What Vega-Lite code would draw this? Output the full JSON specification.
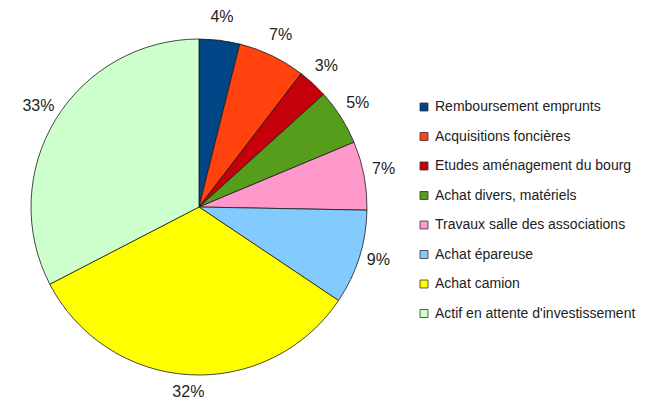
{
  "$schema": "https://vega.github.io/schema/vega-lite/v6.json",
  "width": 398,
  "height": 392,
  "padding": {"left": 0, "top": 9, "right": 0, "bottom": 0},
  "background": "white",
  "config": {"view": {"stroke": null}, "font": "Liberation Sans"},
  "data": {
    "values": [
      {"idx": 1, "poste": "Remboursement emprunts", "part": 3.9, "label": "4%"},
      {"idx": 2, "poste": "Acquisitions foncières", "part": 6.5, "label": "7%"},
      {"idx": 3, "poste": "Etudes aménagement du bourg", "part": 2.9, "label": "3%"},
      {"idx": 4, "poste": "Achat divers, matériels", "part": 5.4, "label": "5%"},
      {"idx": 5, "poste": "Travaux salle des associations", "part": 6.6, "label": "7%"},
      {"idx": 6, "poste": "Achat épareuse", "part": 9.1, "label": "9%"},
      {"idx": 7, "poste": "Achat camion", "part": 33.0, "label": "32%"},
      {"idx": 8, "poste": "Actif en attente d'investissement", "part": 32.6, "label": "33%"}
    ]
  },
  "encoding": {
    "theta": {"field": "part", "type": "quantitative", "stack": true},
    "order": {"field": "idx", "type": "quantitative"}
  },
  "layer": [
    {
      "mark": {"type": "arc", "outerRadius": 168, "stroke": "#1a1a1a", "strokeWidth": 0.8},
      "encoding": {
        "color": {
          "field": "poste",
          "type": "nominal",
          "scale": {
            "domain": ["Remboursement emprunts", "Acquisitions foncières", "Etudes aménagement du bourg", "Achat divers, matériels", "Travaux salle des associations", "Achat épareuse", "Achat camion", "Actif en attente d'investissement"],
            "range": ["#004586", "#ff420e", "#c5000b", "#579d1c", "#ff99cc", "#83caff", "#ffff00", "#ccffcc"]
          },
          "legend": {
            "title": null,
            "orient": "none",
            "legendX": 417,
            "legendY": 89,
            "symbolType": "square",
            "symbolSize": 64,
            "symbolStrokeColor": "#333333",
            "symbolStrokeWidth": 0.8,
            "labelFontSize": 14,
            "labelFont": "Liberation Sans",
            "labelColor": "#222222",
            "labelOffset": 4,
            "rowPadding": 15.5,
            "labelLimit": 300
          }
        }
      }
    },
    {
      "mark": {"type": "text", "radius": 188, "dy": -3, "fontSize": 16, "font": "Liberation Sans", "fill": "#222222"},
      "encoding": {"text": {"field": "label"}}
    }
  ]
}
